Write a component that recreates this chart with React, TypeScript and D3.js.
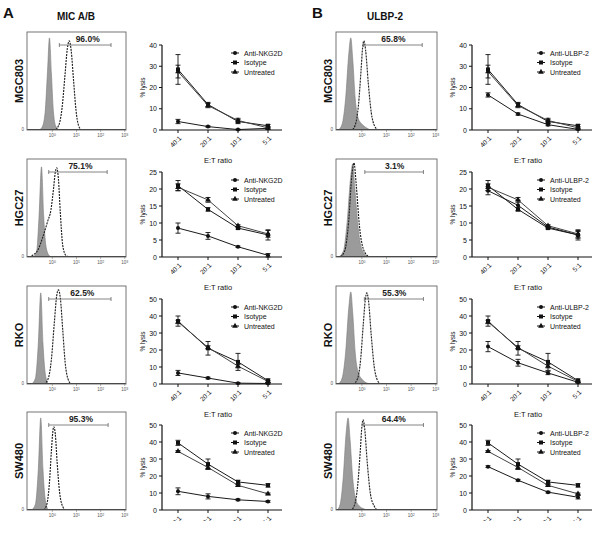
import React from "react";
import * as d3 from "d3";

const W = 600, H = 544;

const cellLines = ["MGC803", "HGC27", "RKO", "SW480"];
const panelLetters = ["A", "B"];
const panelTitles = ["MIC A/B", "ULBP-2"];
const blockingAbs = ["Anti-NKG2D", "Anti-ULBP-2"];
const ratios = ["40:1", "20:1", "10:1", "5:1"];
const yMaxByRow = [40, 25, 50, 50];
const yStepByRow = [10, 5, 10, 10];
const histTicks = [0, 1, 2, 3];

const gateLabelsA = ["96.0%", "75.1%", "62.5%", "95.3%"];
const gateLabelsB = ["65.8%", "3.1%", "55.3%", "64.4%"];
const gateRangesA = [[0.29, 2.43], [-0.15, 2.27], [-0.15, 2.43], [-0.15, 2.31]];
const gateRangesB = [[0.07, 2.45], [0.12, 2.5], [0.1, 2.5], [0.05, 2.5]];

// lysis (%) at 40:1, 20:1, 10:1, 5:1
const isotypeMean = [[28.5, 12, 4, 2], [21, 14, 8.5, 6.5], [37, 21, 13, 2], [39.5, 27, 16.5, 14.5]];
const isotypeErr = [[7, 1, 1, 0.6], [1.5, 0.5, 0.3, 1.5], [3, 4, 5, 1], [1.5, 3, 1, 1]];
const untreatedMean = [[27.5, 11.5, 4.5, 1], [20.5, 16.8, 9.2, 6.8], [36.5, 21.5, 10.5, 1.5], [34.5, 25, 14.5, 9.5]];
const untreatedErr = [[3, 1, 1, 0.5], [1, 0.7, 0.3, 1], [1, 1, 1, 0.5], [0.5, 1, 0.5, 0.5]];
const antiNKG2DMean = [[4, 1.6, 0.2, 0.8], [8.5, 6.2, 3, 0.5], [6.5, 3.5, 0.5, 0.3], [11, 8, 6, 5]];
const antiNKG2DErr = [[1, 0.3, 0.2, 0.5], [1.5, 1, 0.2, 0.5], [1.5, 0.5, 0.3, 0.3], [2, 1.5, 0.5, 0.5]];
const antiULBP2Mean = [[16.5, 7.5, 2.5, 0.3], [19.5, 15.2, 8.8, 6.5], [22, 12.5, 6.5, 1], [25.5, 17.5, 10.5, 7.5]];
const antiULBP2Err = [[1, 0.5, 0.5, 0.2], [1.2, 1.5, 0.3, 1], [3, 2, 1, 0.5], [0.5, 0.5, 0.5, 1]];

// histogram outlines: [log10 intensity, % of max]
const histIsoA = [
  [[-0.55, 0], [-0.42, 3], [-0.3, 18], [-0.2, 60], [-0.12, 94], [-0.04, 58], [0.04, 20], [0.14, 4], [0.28, 0]],
  [[-0.78, 0], [-0.65, 6], [-0.55, 42], [-0.45, 92], [-0.36, 42], [-0.27, 12], [-0.15, 2], [-0.05, 0]],
  [[-0.85, 0], [-0.7, 6], [-0.58, 42], [-0.48, 93], [-0.39, 42], [-0.29, 10], [-0.17, 0]],
  [[-0.85, 0], [-0.7, 6], [-0.58, 42], [-0.48, 94], [-0.39, 42], [-0.29, 10], [-0.17, 0]],
];
const histStainA = [
  [[0.08, 0], [0.25, 4], [0.4, 22], [0.52, 55], [0.62, 83], [0.7, 91], [0.78, 81], [0.88, 50], [0.98, 20], [1.08, 5], [1.22, 0]],
  [[-1.0, 0], [-0.8, 2], [-0.6, 7], [-0.4, 20], [-0.2, 36], [-0.06, 48], [0.05, 70], [0.12, 86], [0.18, 91], [0.25, 80], [0.33, 45], [0.43, 12], [0.55, 2], [0.7, 0]],
  [[-0.35, 0], [-0.18, 5], [-0.04, 25], [0.08, 62], [0.18, 90], [0.25, 96], [0.33, 88], [0.43, 55], [0.53, 22], [0.65, 5], [0.8, 0]],
  [[-0.38, 0], [-0.25, 4], [-0.13, 25], [-0.04, 60], [0.02, 80], [0.06, 85], [0.12, 78], [0.2, 48], [0.3, 18], [0.42, 4], [0.55, 0]],
];
const histIsoB = [
  [[-0.95, 0], [-0.8, 6], [-0.66, 32], [-0.53, 78], [-0.45, 94], [-0.37, 72], [-0.27, 32], [-0.15, 12], [0.0, 6], [0.2, 2], [0.35, 0]],
  [[-0.95, 0], [-0.75, 6], [-0.6, 35], [-0.46, 80], [-0.37, 95], [-0.29, 72], [-0.16, 32], [0.0, 8], [0.2, 1], [0.35, 0]],
  [[-0.95, 0], [-0.8, 6], [-0.66, 32], [-0.53, 78], [-0.45, 94], [-0.37, 72], [-0.27, 32], [-0.15, 12], [0.0, 5], [0.2, 1], [0.35, 0]],
  [[-1.0, 0], [-0.88, 6], [-0.76, 32], [-0.64, 78], [-0.56, 94], [-0.48, 72], [-0.37, 32], [-0.24, 10], [-0.1, 4], [0.1, 1], [0.25, 0]],
];
const histStainB = [
  [[-0.42, 0], [-0.27, 5], [-0.14, 25], [-0.03, 62], [0.03, 84], [0.08, 91], [0.15, 82], [0.26, 48], [0.38, 18], [0.52, 4], [0.68, 0]],
  [[-0.9, 0], [-0.7, 6], [-0.54, 35], [-0.41, 82], [-0.32, 96], [-0.23, 74], [-0.1, 32], [0.05, 9], [0.25, 1], [0.4, 0]],
  [[-0.35, 0], [-0.18, 5], [-0.05, 25], [0.06, 62], [0.14, 86], [0.2, 93], [0.27, 85], [0.38, 50], [0.5, 18], [0.63, 4], [0.78, 0]],
  [[-0.45, 0], [-0.3, 5], [-0.17, 25], [-0.06, 62], [0.0, 85], [0.05, 92], [0.11, 84], [0.22, 48], [0.35, 16], [0.5, 4], [0.65, 0]],
];

const FONT = "'Liberation Sans', Arial, Helvetica, sans-serif";
const rowTops = [32, 159, 286, 412];
const HIST_H = 98;
const CUT_Y = 521;
const panels = [
  { hx0: 27, hx1: 126, axisX: 162, legX: 231, labelX: 19, letterX: 3, titleX: 76, labelShift: 2.5 },
  { hx0: 336, hx1: 437, axisX: 472, legX: 537, labelX: 328, letterX: 312, titleX: 385, labelShift: 0.5 },
];

function Marker({ type, x, y }: { type: string; x: number; y: number }) {
  if (type === "circle") return <circle cx={x} cy={y} r={2} fill="#111" />;
  if (type === "square") return <rect x={x - 2} y={y - 2} width={4} height={4} fill="#111" />;
  const p = d3.symbol(d3.symbolTriangle, 14)();
  return <path d={p || ""} transform={`translate(${x},${y})`} fill="#111" />;
}

function Histogram({ p, row, iso, stain, gate, label }: any) {
  const top = rowTops[row];
  const bottom = top + HIST_H;
  const x = d3.scaleLinear().domain([-1.05, 3.05]).range([p.hx0, p.hx1]);
  const y = d3.scaleLinear().domain([0, 100]).range([bottom, top]);
  const area = d3.area<number[]>().x((d) => x(d[0])).y0(bottom).y1((d) => y(d[1])).curve(d3.curveMonotoneX);
  const line = d3.line<number[]>().x((d) => x(d[0])).y((d) => y(d[1])).curve(d3.curveMonotoneX);
  const gy = top + 13;
  const clipId = `clip-${p.hx0}-${row}`;
  return (
    <g>
      <clipPath id={clipId}>
        <rect x={p.hx0} y={top} width={p.hx1 - p.hx0} height={HIST_H} />
      </clipPath>
      <g clipPath={`url(#${clipId})`}>
        <path d={area(iso) || ""} fill="#9b9b9b" stroke="#7a7a7a" strokeWidth={0.6} />
        <path d={line([[-1.1, 0], ...stain, [3.1, 0]]) || ""} fill="none" stroke="#222" strokeWidth={1.15} strokeDasharray="2,1" />
        <line x1={p.hx0} x2={p.hx1} y1={bottom - 0.5} y2={bottom - 0.5} stroke="#333" strokeWidth={1} />
      </g>
      <rect x={p.hx0} y={top} width={p.hx1 - p.hx0} height={HIST_H} fill="none" stroke="#666" strokeWidth={0.9} />
      <line x1={x(gate[0])} x2={x(gate[1])} y1={gy} y2={gy} stroke="#666" strokeWidth={0.8} />
      <line x1={x(gate[0])} x2={x(gate[0])} y1={gy - 2} y2={gy + 2} stroke="#666" strokeWidth={0.8} />
      <line x1={x(gate[1])} x2={x(gate[1])} y1={gy - 2} y2={gy + 2} stroke="#666" strokeWidth={0.8} />
      <text x={(x(gate[0]) + x(gate[1])) / 2 + p.labelShift} y={top + 10} textAnchor="middle" fontFamily={FONT} fontSize={8.5} fontWeight="bold" fill="#222">{label}</text>
      {histTicks.map((t) => (
        <g key={t}>
          <line x1={x(t)} x2={x(t)} y1={bottom} y2={bottom + 2} stroke="#666" strokeWidth={0.5} />
          <text x={x(t)} y={bottom + 7} textAnchor="middle" fontFamily={FONT} fontSize={4.5} fill="#555">
            10<tspan dy={-1.5} fontSize={3.5}>{t}</tspan>
          </text>
        </g>
      ))}
      <text x={p.hx0 - 3} y={bottom + 1} textAnchor="end" fontFamily={FONT} fontSize={4.5} fill="#555">0</text>
      <text transform={`translate(${p.labelX},${(top + bottom) / 2}) rotate(-90)`} textAnchor="middle" dominantBaseline="central" fontFamily={FONT} fontSize={11} fontWeight="bold" fill="#111">{cellLines[row]}</text>
    </g>
  );
}

function LysisChart({ p, row, anti, antiErr, antiLabel }: any) {
  const top = rowTops[row];
  const y0 = top + 98;
  const y = d3.scaleLinear().domain([0, yMaxByRow[row]]).range([y0, top + 13]);
  const x = d3.scalePoint<string>().domain(ratios).range([p.axisX + 16, p.axisX + 106]);
  const ticks = d3.range(0, yMaxByRow[row] + 0.001, yStepByRow[row]);
  const series = [
    { name: antiLabel, mean: anti[row], err: antiErr[row], marker: "circle", color: "#1a1a1a" },
    { name: "Isotype", mean: isotypeMean[row], err: isotypeErr[row], marker: "square", color: "#1a1a1a" },
    { name: "Untreated", mean: untreatedMean[row], err: untreatedErr[row], marker: "triangle", color: "#444" },
  ];
  const line = d3.line<number>().x((_, i) => x(ratios[i]) as number).y((d) => y(d));
  return (
    <g fontFamily={FONT}>
      <line x1={p.axisX} x2={p.axisX} y1={top + 13} y2={y0} stroke="#111" strokeWidth={1.2} />
      <line x1={p.axisX} x2={p.axisX + 120} y1={y0} y2={y0} stroke="#111" strokeWidth={1.2} />
      {ticks.map((t) => (
        <g key={t}>
          <line x1={p.axisX - 3} x2={p.axisX} y1={y(t)} y2={y(t)} stroke="#111" strokeWidth={1} />
          <text x={p.axisX - 5} y={y(t)} textAnchor="end" dominantBaseline="central" fontSize={7} fill="#111">{t}</text>
        </g>
      ))}
      {ratios.map((r) => (
        <g key={r}>
          <line x1={x(r)} x2={x(r)} y1={y0} y2={y0 + 3} stroke="#111" strokeWidth={1} />
          <text transform={`translate(${(x(r) as number) + 2},${y0 + 7}) rotate(-45)`} textAnchor="end" dominantBaseline="central" fontSize={6.5} fill="#111">{r}</text>
        </g>
      ))}
      <text x={p.axisX + 56} y={y0 + 33} textAnchor="middle" fontSize={7.5} fill="#111">E:T ratio</text>
      <text transform={`translate(${p.axisX - 17},${(top + 13 + y0) / 2}) rotate(-90)`} textAnchor="middle" fontSize={6.5} fill="#111">% lysis</text>
      {series.map((s) => (
        <g key={s.name}>
          <path d={line(s.mean) || ""} fill="none" stroke={s.color} strokeWidth={1} />
          {s.mean.map((m: number, i: number) => {
            const cx = x(ratios[i]) as number;
            const e = s.err[i];
            return (
              <g key={i}>
                <line x1={cx} x2={cx} y1={y(m - e)} y2={y(m + e)} stroke="#111" strokeWidth={0.9} />
                <line x1={cx - 2.5} x2={cx + 2.5} y1={y(m + e)} y2={y(m + e)} stroke="#111" strokeWidth={0.9} />
                <line x1={cx - 2.5} x2={cx + 2.5} y1={y(m - e)} y2={y(m - e)} stroke="#111" strokeWidth={0.9} />
                <Marker type={s.marker} x={cx} y={y(m)} />
              </g>
            );
          })}
        </g>
      ))}
      {series.map((s, i) => {
        const ly = top + 21 + i * 9.5;
        return (
          <g key={"leg" + s.name}>
            <line x1={p.legX} x2={p.legX + 8} y1={ly} y2={ly} stroke="#111" strokeWidth={1} />
            <Marker type={s.marker} x={p.legX + 4} y={ly} />
            <text x={p.legX + 13} y={ly} dominantBaseline="central" fontSize={7} fill="#111">{s.name}</text>
          </g>
        );
      })}
    </g>
  );
}

export default function App() {
  return (
    <svg width={W} height={H} viewBox={`0 0 ${W} ${H}`} style={{ position: "absolute", left: 0, top: 0, background: "#fff" }}>
      <rect width={W} height={H} fill="#fff" />
      <clipPath id="figure-cut">
        <rect x={0} y={0} width={W} height={CUT_Y} />
      </clipPath>
      <g clipPath="url(#figure-cut)">
        {panels.map((p, pi) => (
          <g key={pi}>
            <text x={p.letterX} y={18} fontFamily={FONT} fontSize={15} fontWeight="bold" fill="#111">{panelLetters[pi]}</text>
            <text x={p.titleX} y={20} textAnchor="middle" fontFamily={FONT} fontSize={10} fontWeight="bold" fill="#111">{panelTitles[pi]}</text>
            {cellLines.map((_, row) => (
              <g key={row}>
                <Histogram
                  p={p}
                  row={row}
                  iso={(pi === 0 ? histIsoA : histIsoB)[row]}
                  stain={(pi === 0 ? histStainA : histStainB)[row]}
                  gate={(pi === 0 ? gateRangesA : gateRangesB)[row]}
                  label={(pi === 0 ? gateLabelsA : gateLabelsB)[row]}
                />
                <LysisChart
                  p={p}
                  row={row}
                  anti={pi === 0 ? antiNKG2DMean : antiULBP2Mean}
                  antiErr={pi === 0 ? antiNKG2DErr : antiULBP2Err}
                  antiLabel={blockingAbs[pi]}
                />
              </g>
            ))}
          </g>
        ))}
      </g>
    </svg>
  );
}
